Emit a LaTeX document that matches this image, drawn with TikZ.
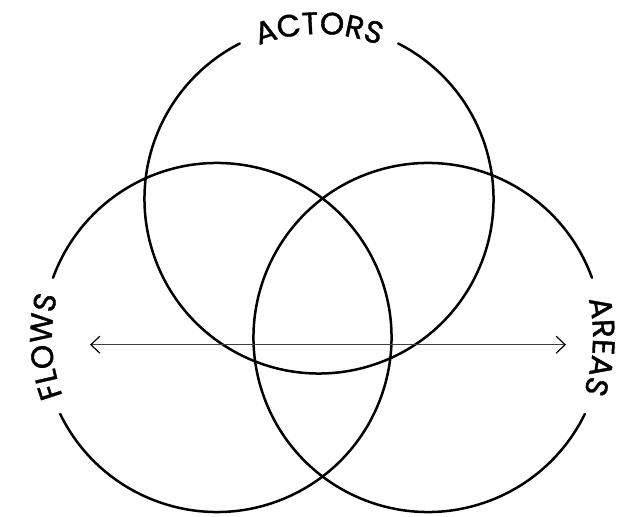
\documentclass[tikz,border=0pt]{standalone}
\usepackage{fontspec}
\setmainfont[FakeBold=1.2]{Poppins}
\usetikzlibrary{arrows.meta,decorations.text}
\begin{document}
\begin{tikzpicture}[x=1pt, y=1pt]
% Venn diagram of three rings
\def\ringr{174.5}
\def\textr{165}
\providecommand{\vennLineColor}{black}
\providecommand{\vennLineWidth}{2.5pt}
\providecommand{\vennAxisColor}{black!75}
\providecommand{\vennLabelSize}{31}
\tikzset{
  ring/.style={draw=\vennLineColor, line width=\vennLineWidth, line cap=round},
  arclabel/.style={decorate, decoration={text along path, text align=center,
    text={|\fontsize{\vennLabelSize}{\vennLabelSize}\selectfont|#1}}},
  axis/.style={draw=\vennAxisColor, line width=0.9pt,
    {Straight Barb[length=9pt, width=17pt, line width=1.2pt, black]}-{Straight Barb[length=9pt, width=17pt, line width=1.2pt, black]}}
}
\useasboundingbox (0,0) rectangle (636,516);
% Centres
\coordinate (ctop) at (319,317);
\coordinate (cleft) at (217,178.5);
\coordinate (cright) at (428,178.5);
% Rings, each open where its label sits
\draw[ring] ([shift={(63:\ringr)}]ctop) arc[start angle=63, end angle=-243, radius=\ringr];
\draw[ring] ([shift={(206:\ringr)}]cleft) arc[start angle=206, end angle=520, radius=\ringr];
\draw[ring] ([shift={(20:\ringr)}]cright) arc[start angle=20, end angle=334, radius=\ringr];
% Labels along the rings
\path[arclabel=ACTORS] ([shift={(120:\textr)}]ctop) arc[start angle=120, end angle=60, radius=\textr];
\path[arclabel=FLOWS] ([shift={(214:\textr)}]cleft) arc[start angle=214, end angle=152, radius=\textr];
\path[arclabel=AREAS] ([shift={(28:\textr)}]cright) arc[start angle=28, end angle=-34, radius=\textr];
% Horizontal axis
\coordinate (axisl) at (90,171.3);
\coordinate (axisr) at (566,171.3);
\draw[axis] (axisl) -- (axisr);
\end{tikzpicture}
\end{document}
